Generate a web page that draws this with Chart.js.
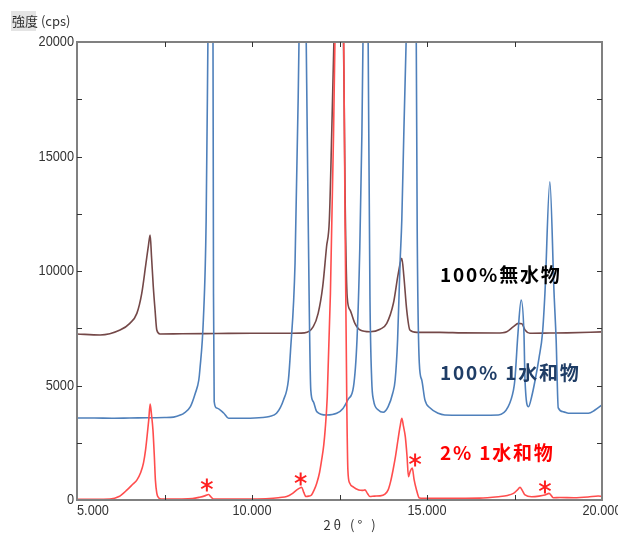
<!DOCTYPE html>
<html lang="ja">
<head>
<meta charset="UTF-8">
<title>XRD</title>
<script src="https://cdn.jsdelivr.net/npm/chart.js"></script>
<style>
  body { margin: 0; background: #fff; }
  #wrap { width: 618px; height: 535px; }
</style>
</head>
<body>
<div id="wrap"><canvas id="xrd" width="618" height="535"></canvas></div>
<script>
// 2% 1水和物 (red)
const redX = [5.0, 5.5, 5.94, 6.2, 6.43, 6.6, 6.71, 6.82, 6.9, 6.96, 7.0, 7.05, 7.09, 7.13, 7.17, 7.21, 7.24, 7.28, 7.31, 7.4,
  8.0, 8.3, 8.5, 8.65, 8.76, 8.83, 8.9, 9.5, 10.0, 10.5, 10.8, 10.99, 11.15, 11.28, 11.36, 11.42, 11.48, 11.54, 11.62, 11.7,
  11.78, 11.85, 11.93, 11.99, 12.05, 12.09, 12.15, 12.24, 12.33, 12.42, 12.5, 12.6, 12.66, 12.71, 12.74, 12.79, 12.9, 13.05, 13.15, 13.23,
  13.3, 13.37, 13.5, 13.66, 13.8, 13.89, 13.96, 14.03, 14.1, 14.17, 14.23, 14.28, 14.33, 14.38, 14.43, 14.47, 14.52, 14.58, 14.63, 14.7,
  14.78, 14.9, 15.5, 16.0, 16.5, 17.04, 17.3, 17.47, 17.57, 17.66, 17.73, 17.8, 17.99, 18.2, 18.37, 18.49, 18.61, 18.8, 19.2, 19.6, 19.89, 20.0];
const redY = [30, 30, 40, 150, 440, 700, 870, 1200, 1620, 2200, 2750, 3500, 4190, 3700, 3060, 1900, 870, 300, 145, 40,
  40, 60, 120, 180, 240, 130, 40, 40, 40, 60, 110, 150, 280, 440, 520, 560, 330, 150, 170, 220,
  450, 730, 1200, 1750, 2400, 3060, 4510, 9000, 16000, 25000, 30000, 24000, 12000, 4000, 1300, 740, 560, 440, 420, 440,
  280, 150, 170, 180, 260, 440, 800, 1310, 1900, 2620, 3200, 3570, 3200, 2765, 1900, 1020, 1250, 1400, 900, 440,
  90, 70, 70, 75, 80, 145, 200, 290, 420, 550, 400, 220, 145, 170, 220, 290, 100, 110, 100, 130, 175, 160];

// 100% 1水和物 (blue)
const blueX = [5.0, 5.5, 6.0, 6.5, 7.0, 7.5, 7.76, 7.97, 8.05, 8.24, 8.38, 8.48, 8.51, 8.61, 8.69, 8.74, 8.8, 8.88, 8.9, 8.92,
  8.99, 9.19, 9.33, 9.8, 10.3, 10.5, 10.7, 10.9, 11.04, 11.1, 11.23, 11.32, 11.38, 11.45, 11.52, 11.6, 11.68, 11.75, 11.85, 12.13,
  12.42, 12.6, 12.75, 12.9, 13.0, 13.08, 13.14, 13.2, 13.25, 13.31, 13.37, 13.42, 13.47, 13.61, 13.75, 13.89, 14.02, 14.09, 14.16, 14.23,
  14.28, 14.34, 14.42, 14.55, 14.69, 14.72, 14.78, 14.85, 14.94, 15.09, 15.32, 15.51, 16.0, 16.5, 17.04, 17.32, 17.47, 17.51, 17.6, 17.69,
  17.77, 17.8, 17.9, 17.99, 18.09, 18.2, 18.3, 18.37, 18.51, 18.63, 18.69, 18.75, 18.9, 19.04, 19.61, 19.8, 20.0];
const blueY = [3580, 3580, 3570, 3580, 3590, 3600, 3620, 3720, 3785, 4075, 4660, 5240, 5677, 7860, 12230, 20000, 30000, 24000, 9000, 4300,
  4020, 3800, 3570, 3570, 3600, 3650, 3785, 4370, 5240, 6500, 10350, 17600, 24000, 30000, 24000, 13000, 4800, 4300, 3860, 3710,
  3785, 4000, 4400, 4950, 7000, 11000, 16000, 24000, 30000, 22000, 8880, 5240, 4370, 3930, 3830, 4075, 4660, 5240, 7000, 10350,
  12230, 16160, 21000, 28000, 21000, 11790, 5980, 5240, 4370, 4020, 3785, 3712, 3700, 3700, 3712, 4075, 4800, 5240, 7290, 8730,
  7290, 5240, 4075, 4510, 5240, 6200, 7290, 9040, 13900, 9040, 6990, 4020, 3850, 3785, 3785, 3930, 4150];

// 100%無水物 (brown)
const brownX = [5.0, 5.66, 6.23, 6.51, 6.71, 6.85, 6.97, 7.04, 7.09, 7.13, 7.18, 7.23, 7.28, 7.37, 8.0, 9.0, 10.0, 11.0, 11.5, 11.75,
  11.89, 12.02, 12.13, 12.21, 12.28, 12.34, 12.45, 12.58, 12.63, 12.66, 12.72, 12.8, 12.94, 13.09, 13.37, 13.66, 13.85, 14.04, 14.18, 14.28,
  14.34, 14.42, 14.51, 14.71, 15.37, 16.0, 17.0, 17.28, 17.47, 17.61, 17.71, 17.8, 17.94, 18.5, 19.0, 20.0];
const brownY = [7250, 7205, 7420, 7715, 8150, 9025, 10335, 11100, 11570, 10600, 9315, 8300, 7420, 7250, 7260, 7270, 7280, 7280, 7300, 7570,
  8150, 9315, 11060, 12230, 16160, 20000, 28000, 24000, 18000, 13245, 8865, 8300, 7715, 7424, 7350, 7455, 7715, 8590, 9900, 10555,
  9750, 8300, 7424, 7320, 7320, 7300, 7290, 7350, 7570, 7715, 7700, 7424, 7280, 7290, 7300, 7340];

const yLabels = [0, 5000, 10000, 15000, 20000];
const yMinor = [2500, 5000, 7500, 10000, 12500, 15000, 17500];
const xLabels = [5, 10, 15, 20];
const xMinor = [7.5, 10, 12.5, 15, 17.5];

// peaks of the monohydrate seen in the 2% sample
const starX = [8.71, 11.39, 14.66, 18.37];
const starY = [655, 917, 1747, 568];

function pts(xs, ys) {
  return xs.map((x, i) => ({ x: x, y: ys[i] }));
}

function narrowText(ctx, text, x, y, align, sx) {
  ctx.save();
  ctx.translate(x, y);
  ctx.scale(sx, 1);
  ctx.textAlign = align;
  ctx.fillText(text, 0, 0);
  ctx.restore();
}

const decor = {
  id: 'decor',
  afterDraw(chart) {
    const { ctx, chartArea: a, scales: { x, y } } = chart;
    ctx.save();

    // asterisks
    ctx.strokeStyle = '#ff2020';
    ctx.lineWidth = 2;
    starX.forEach((v, i) => {
      const cx = x.getPixelForValue(v), cy = y.getPixelForValue(starY[i]);
      ctx.beginPath();
      [90, 30, -30].forEach(deg => {
        const r = deg * Math.PI / 180;
        ctx.moveTo(cx - 6.5 * Math.cos(r), cy - 6.5 * Math.sin(r));
        ctx.lineTo(cx + 6.5 * Math.cos(r), cy + 6.5 * Math.sin(r));
      });
      ctx.stroke();
    });

    // frame
    ctx.strokeStyle = '#808080';
    ctx.lineWidth = 2;
    ctx.strokeRect(a.left, a.top, a.right - a.left, a.bottom - a.top);

    // inward ticks
    ctx.strokeStyle = '#333';
    ctx.lineWidth = 1;
    ctx.beginPath();
    yMinor.forEach(v => {
      const py = Math.round(y.getPixelForValue(v)) + 0.5;
      ctx.moveTo(a.left, py); ctx.lineTo(a.left + 5, py);
      ctx.moveTo(a.right, py); ctx.lineTo(a.right - 5, py);
    });
    xMinor.forEach(v => {
      const px = Math.round(x.getPixelForValue(v)) + 0.5;
      ctx.moveTo(px, a.bottom); ctx.lineTo(px, a.bottom - 5);
      ctx.moveTo(px, a.top); ctx.lineTo(px, a.top + 5);
    });
    ctx.stroke();

    // tick labels
    ctx.fillStyle = '#333';
    ctx.font = '15px "Liberation Sans Narrow", "Liberation Sans", sans-serif';
    ctx.textBaseline = 'middle';
    yLabels.forEach(v => {
      narrowText(ctx, String(v), a.left - 3, y.getPixelForValue(v), 'right', 0.85);
    });
    xLabels.forEach((v, i) => {
      const px = x.getPixelForValue(v);
      narrowText(ctx, v.toFixed(3), px, a.bottom + 11, i === 0 ? 'left' : 'center', 0.85);
    });

    // axis titles
    ctx.fillStyle = '#e4e4e4';
    ctx.fillRect(11, 11, 25, 20);
    ctx.fillStyle = '#333';
    ctx.font = '13px "Noto Sans CJK JP", sans-serif';
    ctx.textAlign = 'left';
    ctx.fillText('強度 (cps)', 12, 21);
    ctx.textAlign = 'center';
    ctx.letterSpacing = '3px';
    ctx.fillText('2θ (° )', 351, 525);

    // series labels
    ctx.font = 'bold 19px "Noto Sans CJK JP", sans-serif';
    ctx.letterSpacing = '1.8px';
    ctx.textAlign = 'left';
    ctx.fillStyle = '#000';
    ctx.fillText('100%無水物', 440, 275);
    ctx.fillStyle = '#1f3d66';
    ctx.fillText('100% 1水和物', 440, 373);
    ctx.fillStyle = '#ff0000';
    ctx.fillText('2% 1水和物', 440, 453);

    ctx.restore();
  }
};

const line = (data, color) => ({
  data: data,
  borderColor: color,
  borderWidth: 1.6,
  pointRadius: 0,
  fill: false,
  cubicInterpolationMode: 'monotone'
});

new Chart(document.getElementById('xrd'), {
  type: 'line',
  data: {
    datasets: [
      line(pts(redX, redY), '#ff4d4d'),
      line(pts(blueX, blueY), '#4f80bb'),
      line(pts(brownX, brownY), '#744848')
    ]
  },
  options: {
    responsive: false,
    animation: false,
    layout: { padding: { left: 77, right: 16, top: 42, bottom: 35 } },
    scales: {
      x: { type: 'linear', min: 5, max: 20, display: false },
      y: { type: 'linear', min: 0, max: 20000, display: false }
    },
    plugins: {
      legend: { display: false },
      tooltip: { enabled: false }
    }
  },
  plugins: [decor]
});
</script>
</body>
</html>
